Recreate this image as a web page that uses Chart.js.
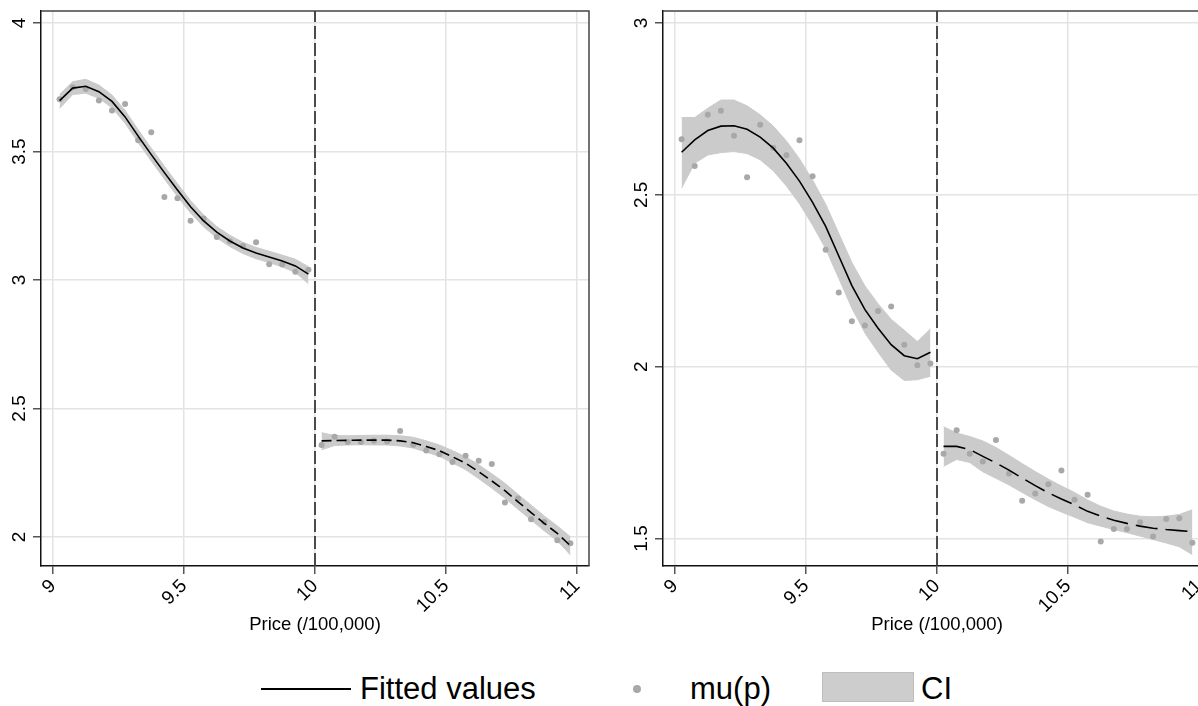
<!DOCTYPE html>
<html>
<head>
  <title>Price (/100,000) discontinuity</title>
  <script src="https://cdn.jsdelivr.net/npm/chart.js"></script>
  <style>
    body { margin: 0; background: white; width: 1198px; height: 706px; overflow: hidden; position: relative; font-family: "Liberation Sans", Arial, Helvetica, sans-serif; }
    canvas { position: absolute; top: 0; }
    #leftChart { left: 0; }
    #rightChart { left: 622px; }
    .leg { position: absolute; top: 673px; font-size: 31px; line-height: 31px; color: #000; white-space: nowrap; }
  </style>
</head>
<body>
  <canvas id="leftChart" width="600" height="640"></canvas>
  <canvas id="rightChart" width="600" height="640"></canvas>

  <div style="position:absolute; left:261px; top:688px; width:90px; height:2px; background:#000;"></div>
  <div class="leg" style="left:360px;">Fitted values</div>
  <div style="position:absolute; left:633px; top:685px; width:8px; height:8px; border-radius:50%; background:#a8a8a8;"></div>
  <div class="leg" style="left:690px;">mu(p)</div>
  <div style="position:absolute; left:822px; top:672px; width:90px; height:28px; background:#cdcdcd; border:1px solid #bdbdbd;"></div>
  <div class="leg" style="left:921px;">CI</div>

  <script>
    // bins (price / 100,000)
    const xPre  = [9.025, 9.075, 9.125, 9.175, 9.225, 9.275, 9.325, 9.375, 9.425, 9.475,
                   9.525, 9.575, 9.625, 9.675, 9.725, 9.775, 9.825, 9.875, 9.925, 9.975];
    const xPost = [10.025, 10.075, 10.125, 10.175, 10.225, 10.275, 10.325, 10.375, 10.425, 10.475,
                   10.525, 10.575, 10.625, 10.675, 10.725, 10.775, 10.825, 10.875, 10.925, 10.975];
    const cutoff = 10;
    const xTicks = [9, 9.5, 10, 10.5, 11];

    // left panel
    const muPreL  = [3.704, 3.750, 3.743, 3.699, 3.660, 3.685, 3.544, 3.575, 3.323, 3.318,
                     3.231, 3.239, 3.167, 3.151, 3.132, 3.147, 3.061, 3.060, 3.032, 3.040];
    const fitPreL = [3.698, 3.747, 3.754, 3.733, 3.695, 3.635, 3.560, 3.488, 3.418, 3.350,
                     3.285, 3.230, 3.186, 3.152, 3.125, 3.105, 3.090, 3.074, 3.055, 3.023];
    const hiPreL  = [3.722, 3.772, 3.781, 3.759, 3.720, 3.660, 3.585, 3.513, 3.443, 3.375,
                     3.309, 3.253, 3.208, 3.174, 3.147, 3.127, 3.112, 3.097, 3.081, 3.052];
    const loPreL  = [3.668, 3.722, 3.727, 3.707, 3.670, 3.610, 3.535, 3.463, 3.393, 3.325,
                     3.261, 3.207, 3.164, 3.130, 3.103, 3.083, 3.068, 3.051, 3.029, 2.986];
    const muPostL  = [2.358, 2.390, 2.370, 2.370, 2.374, 2.372, 2.412, 2.359, 2.337, 2.322,
                      2.292, 2.316, 2.297, 2.284, 2.134, 2.150, 2.069, 2.058, 1.987, 1.976];
    const fitPostL = [2.374, 2.375, 2.376, 2.377, 2.377, 2.377, 2.374, 2.367, 2.352, 2.336,
                      2.312, 2.287, 2.254, 2.218, 2.180, 2.137, 2.095, 2.053, 2.014, 1.966];
    const hiPostL  = [2.406, 2.395, 2.394, 2.395, 2.396, 2.396, 2.394, 2.388, 2.374, 2.358,
                      2.336, 2.312, 2.281, 2.246, 2.209, 2.166, 2.124, 2.082, 2.043, 2.001];
    const loPostL  = [2.339, 2.356, 2.358, 2.359, 2.358, 2.358, 2.354, 2.346, 2.330, 2.314,
                      2.288, 2.262, 2.227, 2.190, 2.151, 2.108, 2.066, 2.024, 1.985, 1.930];
    const yTicksL = [2, 2.5, 3, 3.5, 4];

    // right panel
    const muPreR  = [2.662, 2.584, 2.733, 2.745, 2.672, 2.551, 2.704, 2.637, 2.615, 2.659,
                     2.554, 2.340, 2.216, 2.132, 2.120, 2.162, 2.175, 2.064, 2.004, 2.009];
    const fitPreR = [2.624, 2.660, 2.687, 2.700, 2.701, 2.691, 2.668, 2.636, 2.592, 2.540,
                     2.478, 2.408, 2.322, 2.236, 2.166, 2.112, 2.064, 2.032, 2.023, 2.042];
    const hiPreR  = [2.725, 2.725, 2.752, 2.776, 2.776, 2.759, 2.733, 2.700, 2.657, 2.605,
                     2.543, 2.473, 2.388, 2.303, 2.235, 2.183, 2.138, 2.106, 2.073, 2.110];
    const loPreR  = [2.520, 2.592, 2.616, 2.623, 2.626, 2.620, 2.602, 2.570, 2.526, 2.474,
                     2.412, 2.343, 2.257, 2.170, 2.098, 2.042, 1.990, 1.960, 1.962, 1.972];
    const muPostR  = [1.747, 1.815, 1.747, 1.724, 1.787, 1.689, 1.610, 1.631, 1.658, 1.698,
                      1.613, 1.627, 1.491, 1.528, 1.528, 1.547, 1.506, 1.557, 1.559, 1.488];
    const fitPostR = [1.768, 1.768, 1.759, 1.739, 1.720, 1.699, 1.676, 1.654, 1.633, 1.615,
                      1.598, 1.579, 1.565, 1.553, 1.544, 1.536, 1.530, 1.526, 1.523, 1.520];
    const hiPostR  = [1.825, 1.807, 1.797, 1.784, 1.765, 1.742, 1.718, 1.695, 1.673, 1.653,
                      1.634, 1.612, 1.594, 1.580, 1.571, 1.565, 1.563, 1.565, 1.570, 1.584];
    const loPostR  = [1.710, 1.730, 1.721, 1.694, 1.675, 1.656, 1.634, 1.613, 1.593, 1.577,
                      1.562, 1.546, 1.536, 1.526, 1.517, 1.507, 1.497, 1.487, 1.476, 1.453];
    const yTicksR = [1.5, 2, 2.5, 3];

    const FONT = '"Liberation Sans", Arial, Helvetica, sans-serif';
    const pts = (xs, ys) => xs.map((x, i) => ({ x: x, y: ys[i] }));

    // box round the plot area (Stata style)
    const framePlugin = {
      id: 'frame',
      afterDraw(chart) {
        const a = chart.chartArea, c = chart.ctx;
        c.save();
        c.strokeStyle = '#444';
        c.lineWidth = 1.5;
        c.beginPath();
        c.moveTo(a.left, a.top);
        c.lineTo(a.right, a.top);
        c.lineTo(a.right, a.bottom);
        c.stroke();
        c.restore();
      }
    };

    function makeChart(id, d) {
      const line = (data, dash) => ({
        type: 'line', data: data, borderColor: '#000', borderWidth: 1.6,
        borderDash: dash, pointRadius: 0, fill: false, tension: 0
      });
      const dots = data => ({
        type: 'scatter', data: data, backgroundColor: '#a8a8a8', borderWidth: 0,
        pointRadius: 3, showLine: false
      });
      const band = (data, target) => ({
        type: 'line', data: data, borderColor: '#cbcbcb', borderWidth: 1,
        backgroundColor: '#cbcbcb', pointRadius: 0, tension: 0,
        fill: target === null ? false : target
      });

      return new Chart(document.getElementById(id), {
        type: 'line',
        data: {
          datasets: [
            line(pts(xPre, d.fitPre), []),
            line(pts(xPost, d.fitPost), d.dash),
            dots(pts(xPre, d.muPre)),
            dots(pts(xPost, d.muPost)),
            band(pts(xPre, d.hiPre), 5),
            band(pts(xPre, d.loPre), null),
            band(pts(xPost, d.hiPost), 7),
            band(pts(xPost, d.loPost), null),
            {
              type: 'line', data: [{ x: cutoff, y: d.yMin }, { x: cutoff, y: d.yMax }],
              borderColor: '#3a3a3a', borderWidth: 1.8, borderDash: [13, 4],
              pointRadius: 0, fill: false
            }
          ]
        },
        options: {
          responsive: false,
          animation: false,
          layout: { autoPadding: false, padding: { top: 11, right: 11, left: 0, bottom: 0 } },
          plugins: { legend: { display: false }, tooltip: { enabled: false } },
          scales: {
            x: {
              type: 'linear', min: 8.954, max: 11.046,
              afterBuildTicks: s => { s.ticks = xTicks.map(v => ({ value: v })); },
              afterFit: s => { s.height = 74; s.paddingLeft = 0; s.paddingRight = 0; },
              ticks: {
                autoSkip: false, minRotation: 45, maxRotation: 45, padding: 1,
                color: '#000', font: { family: FONT, size: 19 },
                callback: v => String(v)
              },
              grid: { color: '#e3e3e3', lineWidth: 1.5, tickLength: 8, tickColor: '#555', tickWidth: 1.5 },
              border: { color: '#111', width: 1.5 },
              title: {
                display: true, text: 'Price (/100,000)', color: '#000',
                font: { family: FONT, size: 18.5 }, padding: { top: 0, bottom: 4 }
              }
            },
            y: {
              type: 'linear', min: d.yMin, max: d.yMax,
              afterBuildTicks: s => { s.ticks = d.yTicks.map(v => ({ value: v })); },
              afterFit: s => { s.width = 41; s.paddingTop = 0; s.paddingBottom = 0; },
              ticks: {
                minRotation: 90, maxRotation: 90, crossAlign: 'center', padding: 0,
                color: '#000', font: { family: FONT, size: 19 },
                callback: v => String(v)
              },
              grid: { color: '#e3e3e3', lineWidth: 1.5, tickLength: 8, tickColor: '#555', tickWidth: 1.5 },
              border: { color: '#111', width: 1.5 }
            }
          }
        },
        plugins: [framePlugin]
      });
    }

    makeChart('leftChart', {
      fitPre: fitPreL, fitPost: fitPostL, muPre: muPreL, muPost: muPostL,
      hiPre: hiPreL, loPre: loPreL, hiPost: hiPostL, loPost: loPostL,
      yMin: 1.887, yMax: 4.047, yTicks: yTicksL, dash: [10, 5]
    });
    makeChart('rightChart', {
      fitPre: fitPreR, fitPost: fitPostR, muPre: muPreR, muPost: muPostR,
      hiPre: hiPreR, loPre: loPreR, hiPost: hiPostR, loPost: loPostR,
      yMin: 1.42, yMax: 3.035, yTicks: yTicksR, dash: [22, 8]
    });
  </script>
</body>
</html>
